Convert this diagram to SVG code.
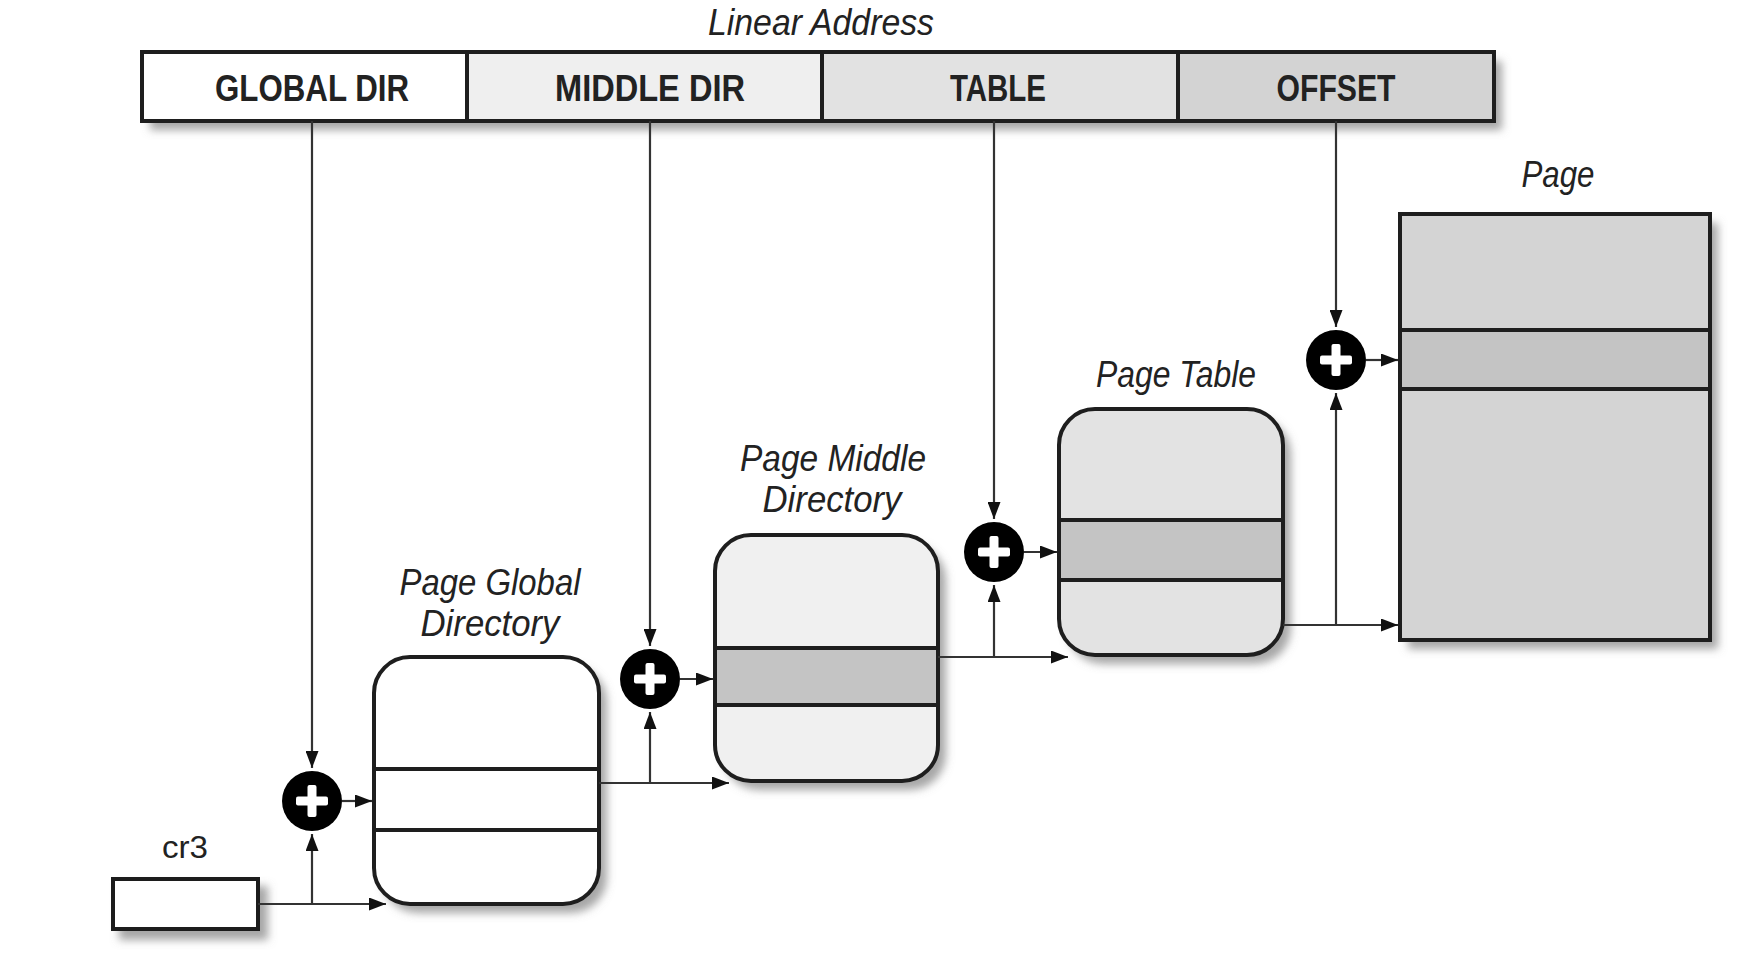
<svg xmlns="http://www.w3.org/2000/svg" width="1739" height="971" viewBox="0 0 1739 971">
<style>
.lbl{font-family:"Liberation Sans Narrow","Liberation Sans",Arial,sans-serif;fill:#222}
.it{font-style:italic;font-size:36px}
.bold{font-weight:bold;font-size:36px}
.box{stroke:#1e1e1e;stroke-width:4}
.band{stroke:#1e1e1e;stroke-width:4}
.conn{stroke:#333;stroke-width:2.2;fill:none}
</style>
<defs>
<filter id="sh" x="-30%" y="-50%" width="160%" height="200%">
<feDropShadow dx="8" dy="9" stdDeviation="4" flood-color="#777" flood-opacity="0.65"/>
</filter>
<marker id="ar" markerUnits="userSpaceOnUse" markerWidth="17" markerHeight="13" refX="17" refY="6.5" orient="auto">
<path d="M0,0 L17,6.5 L0,13 z" fill="#111"/>
</marker>
<g id="plus">
<circle r="30" fill="#000"/>
<rect x="-16" y="-4.5" width="32" height="9" rx="2" fill="#fff"/>
<rect x="-4.5" y="-16" width="9" height="32" rx="2" fill="#fff"/>
</g>
</defs>
<rect width="1739" height="971" fill="#fff"/>

<text class="lbl it" x="821" y="35" text-anchor="middle" textLength="226" lengthAdjust="spacingAndGlyphs" fill="#333">Linear Address</text>

<g id="linear-address">
<rect x="142" y="52" width="1352" height="69" fill="#fff" filter="url(#sh)"/>
<rect x="142" y="52" width="325" height="69" fill="#fff"/>
<rect x="467" y="52" width="355" height="69" fill="#efefef"/>
<rect x="822" y="52" width="356" height="69" fill="#e2e2e2"/>
<rect x="1178" y="52" width="316" height="69" fill="#d3d3d3"/>
<rect x="142" y="52" width="1352" height="69" fill="none" class="box"/>
<line x1="467" y1="52" x2="467" y2="121" class="box"/>
<line x1="822" y1="52" x2="822" y2="121" class="box"/>
<line x1="1178" y1="52" x2="1178" y2="121" class="box"/>
<text class="lbl bold" x="312" y="101" text-anchor="middle" textLength="194" lengthAdjust="spacingAndGlyphs">GLOBAL DIR</text>
<text class="lbl bold" x="650" y="101" text-anchor="middle" textLength="190" lengthAdjust="spacingAndGlyphs">MIDDLE DIR</text>
<text class="lbl bold" x="998" y="101" text-anchor="middle" textLength="96" lengthAdjust="spacingAndGlyphs">TABLE</text>
<text class="lbl bold" x="1336" y="101" text-anchor="middle" textLength="119" lengthAdjust="spacingAndGlyphs">OFFSET</text>
</g>

<g id="cr3">
<rect x="113" y="879" width="145" height="50" fill="#fff" class="box" filter="url(#sh)"/>
<text class="lbl" x="185" y="858" font-size="32" text-anchor="middle" textLength="46" lengthAdjust="spacingAndGlyphs" fill="#333">cr3</text>
</g>

<g id="page-global-directory">
<rect x="374" y="657" width="225" height="247" rx="36" fill="#fff" filter="url(#sh)"/>
<line x1="374" y1="769" x2="599" y2="769" class="band"/>
<line x1="374" y1="830" x2="599" y2="830" class="band"/>
<rect x="374" y="657" width="225" height="247" rx="36" fill="none" class="box"/>
<text class="lbl it" x="490" y="595" text-anchor="middle" textLength="181" lengthAdjust="spacingAndGlyphs" fill="#333">Page Global</text>
<text class="lbl it" x="490" y="636" text-anchor="middle" textLength="139" lengthAdjust="spacingAndGlyphs" fill="#333">Directory</text>
</g>

<g id="page-middle-directory">
<rect x="715" y="535" width="223" height="246" rx="36" fill="#f0f0f0" filter="url(#sh)"/>
<rect x="715" y="648" width="223" height="57" fill="#c4c4c4"/>
<line x1="715" y1="648" x2="938" y2="648" class="band"/>
<line x1="715" y1="705" x2="938" y2="705" class="band"/>
<rect x="715" y="535" width="223" height="246" rx="36" fill="none" class="box"/>
<text class="lbl it" x="833" y="471" text-anchor="middle" textLength="186" lengthAdjust="spacingAndGlyphs" fill="#333">Page Middle</text>
<text class="lbl it" x="832" y="512" text-anchor="middle" textLength="139" lengthAdjust="spacingAndGlyphs" fill="#333">Directory</text>
</g>

<g id="page-table">
<rect x="1059" y="409" width="224" height="246" rx="36" fill="#e3e3e3" filter="url(#sh)"/>
<rect x="1059" y="520" width="224" height="60" fill="#c4c4c4"/>
<line x1="1059" y1="520" x2="1283" y2="520" class="band"/>
<line x1="1059" y1="580" x2="1283" y2="580" class="band"/>
<rect x="1059" y="409" width="224" height="246" rx="36" fill="none" class="box"/>
<text class="lbl it" x="1176" y="387" text-anchor="middle" textLength="160" lengthAdjust="spacingAndGlyphs" fill="#333">Page Table</text>
</g>

<g id="page">
<rect x="1400" y="214" width="310" height="426" fill="#d4d4d4" filter="url(#sh)"/>
<rect x="1400" y="330" width="310" height="59" fill="#c4c4c4"/>
<line x1="1400" y1="330" x2="1710" y2="330" class="band"/>
<line x1="1400" y1="389" x2="1710" y2="389" class="band"/>
<rect x="1400" y="214" width="310" height="426" fill="none" class="box"/>
<text class="lbl it" x="1558" y="187" text-anchor="middle" textLength="73" lengthAdjust="spacingAndGlyphs" fill="#333">Page</text>
</g>

<g id="adders">
<use href="#plus" x="312" y="801"/>
<use href="#plus" x="650" y="679"/>
<use href="#plus" x="994" y="552"/>
<use href="#plus" x="1336" y="360"/>
</g>

<g id="connectors">
<path class="conn" d="M312,121 V768" marker-end="url(#ar)"/>
<path class="conn" d="M258,904 H386" marker-end="url(#ar)"/>
<path class="conn" d="M312,904 V834" marker-end="url(#ar)"/>
<path class="conn" d="M342,801 H372" marker-end="url(#ar)"/>
<path class="conn" d="M650,121 V646" marker-end="url(#ar)"/>
<path class="conn" d="M599,783 H729" marker-end="url(#ar)"/>
<path class="conn" d="M650,783 V712" marker-end="url(#ar)"/>
<path class="conn" d="M680,679 H713" marker-end="url(#ar)"/>
<path class="conn" d="M994,121 V519" marker-end="url(#ar)"/>
<path class="conn" d="M938,657 H1068" marker-end="url(#ar)"/>
<path class="conn" d="M994,657 V585" marker-end="url(#ar)"/>
<path class="conn" d="M1024,552 H1057" marker-end="url(#ar)"/>
<path class="conn" d="M1336,121 V327" marker-end="url(#ar)"/>
<path class="conn" d="M1283,625 H1398" marker-end="url(#ar)"/>
<path class="conn" d="M1336,625 V393" marker-end="url(#ar)"/>
<path class="conn" d="M1366,360 H1398" marker-end="url(#ar)"/>
</g>
</svg>
